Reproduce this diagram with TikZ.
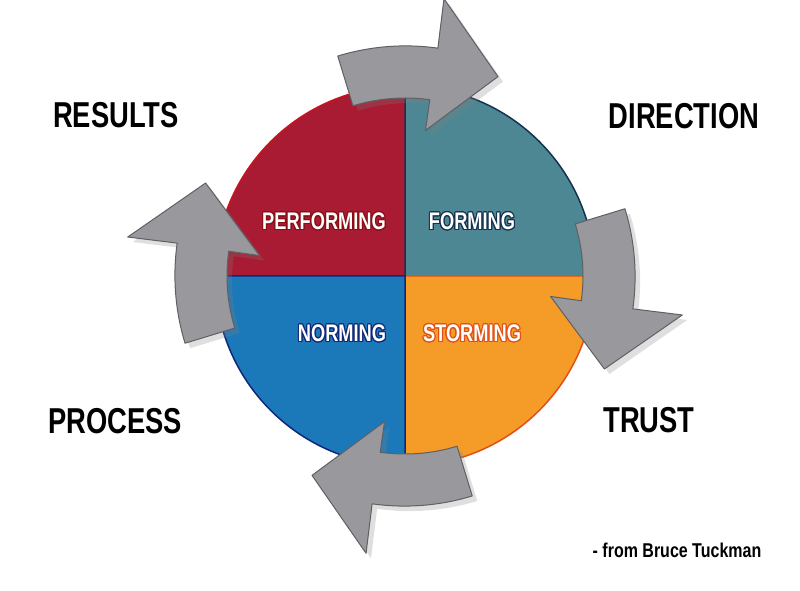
\documentclass[tikz,border=0pt]{standalone}
\usepackage{fontspec}
\usepackage{contour}
\usetikzlibrary{shadows}

\newfontfamily\capsfont[FakeStretch=0.76]{Liberation Sans}
\newfontfamily\notefont[FakeStretch=0.8]{Liberation Sans}
\contourlength{1.1pt}

\definecolor{perfred}{RGB}{168,27,50}
\definecolor{perfedge}{RGB}{200,20,30}
\definecolor{formteal}{RGB}{78,135,148}
\definecolor{formedge}{RGB}{20,50,80}
\definecolor{normblue}{RGB}{27,120,185}
\definecolor{normedge}{RGB}{15,40,120}
\definecolor{stormorange}{RGB}{245,155,40}
\definecolor{stormedge}{RGB}{225,80,20}
\definecolor{turngray}{RGB}{152,152,157}
\definecolor{turnedge}{RGB}{95,95,100}

\begin{document}
\begin{tikzpicture}[x=1pt,y=1pt,
    corner/.style={font=\capsfont\bfseries\fontsize{36}{36}\selectfont, inner sep=0pt},
    stage/.style={text=white, font=\capsfont\bfseries\fontsize{24}{24}\selectfont, inner sep=0pt},
    turn/.style={fill=turngray, draw=turnedge, line width=1pt, line join=round,
        drop shadow={opacity=0.25, shadow xshift=5pt, shadow yshift=-5pt}}]

    \useasboundingbox (0,0) rectangle (800,591);
    \coordinate (C) at (405,315);

    % the four stages
    \draw[fill=perfred, draw=perfedge, line width=1.5pt] (C) -- ++(180:190) arc[start angle=180, end angle=90, radius=190] -- cycle;
    \draw[fill=formteal, draw=formedge, line width=1.5pt] (C) -- ++(90:190) arc[start angle=90, end angle=0, radius=190] -- cycle;
    \draw[fill=stormorange, draw=stormedge, line width=1.5pt] (C) -- ++(0:190) arc[start angle=0, end angle=-90, radius=190] -- cycle;
    \draw[fill=normblue, draw=normedge, line width=1.5pt] (C) -- ++(-90:190) arc[start angle=-90, end angle=-180, radius=190] -- cycle;

    \node[stage] at (324,369) (perf) {\contour{perfedge!70!black}{PERFORMING}};
    \node[stage] at (472,369) (form) {\contour{formedge}{FORMING}};
    \node[stage] at (342,257) (norm) {\contour{normedge}{NORMING}};
    \node[stage] at (472,257) (storm) {\contour{stormedge}{STORMING}};

    % arrows going round
    \foreach \b in {82,-8,-98,-188}{
        \draw[turn, shift={(C)}] ({\b+25}:230) arc[start angle=\b+25, end angle=\b, radius=232]
            -- (\b:280) -- ({\b-17}:220) -- (\b:147) -- (\b:178)
            arc[start angle=\b, end angle=\b+25, radius=178] -- cycle;
    }

    \node[corner] at (116,476) (results) {RESULTS};
    \node[corner] at (684,475) (direction) {DIRECTION};
    \node[corner] at (115,170) (process) {PROCESS};
    \node[corner] at (649,171) (trust) {TRUST};

    \node[font=\notefont\bfseries\fontsize{20}{20}\selectfont, inner sep=0pt] at (677,41) (source) {- from Bruce Tuckman};
\end{tikzpicture}
\end{document}
